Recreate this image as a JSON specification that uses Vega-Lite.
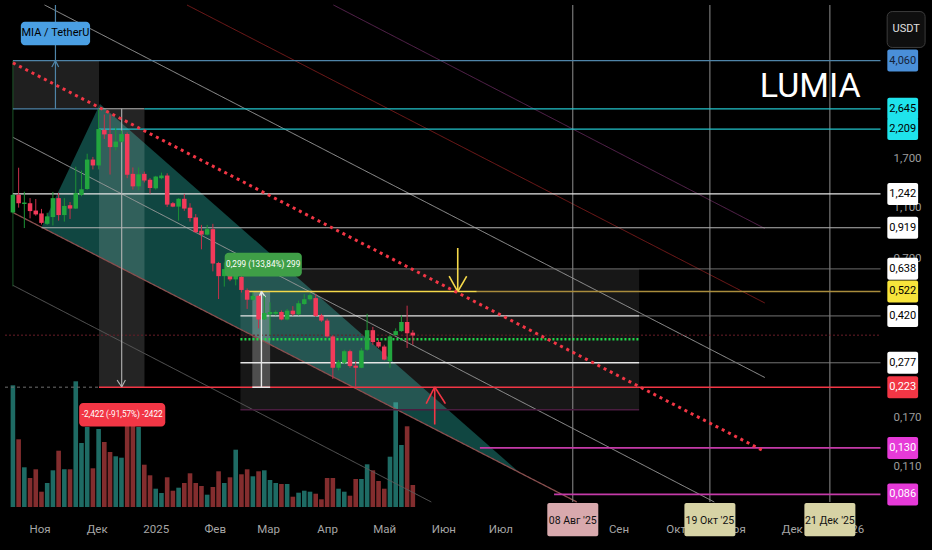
{
  "$schema": "https://vega.github.io/schema/vega-lite/v6.json",
  "width": 932,
  "height": 507,
  "autosize": {"type": "none"},
  "padding": {"left": 0, "top": 0, "right": 0, "bottom": 43},
  "background": "#000000",
  "config": {
    "view": {"stroke": null},
    "text": {"font": "Roboto, Liberation Sans, sans-serif"}
  },
  "datasets": {
    "candles": [
      {"t": "2024-10-18", "o": 1.053, "h": 1.244, "l": 1.045, "c": 1.231, "v": 121.7},
      {"t": "2024-10-21", "o": 1.231, "h": 1.567, "l": 1.099, "c": 1.143, "v": 67.7},
      {"t": "2024-10-24", "o": 1.135, "h": 1.266, "l": 0.917, "c": 1.150, "v": 39.7},
      {"t": "2024-10-27", "o": 1.143, "h": 1.196, "l": 0.999, "c": 1.066, "v": 29},
      {"t": "2024-10-30", "o": 1.071, "h": 1.186, "l": 1.023, "c": 1.035, "v": 37.7},
      {"t": "2024-11-02", "o": 1.044, "h": 1.087, "l": 0.946, "c": 0.960, "v": 15.3},
      {"t": "2024-11-05", "o": 0.952, "h": 1.050, "l": 0.943, "c": 1.017, "v": 24},
      {"t": "2024-11-08", "o": 1.011, "h": 1.264, "l": 0.938, "c": 1.196, "v": 36.7},
      {"t": "2024-11-11", "o": 1.196, "h": 1.253, "l": 0.979, "c": 1.029, "v": 56.3},
      {"t": "2024-11-14", "o": 1.029, "h": 1.196, "l": 0.971, "c": 1.116, "v": 37.7},
      {"t": "2024-11-17", "o": 1.123, "h": 1.155, "l": 0.994, "c": 1.090, "v": 37.7},
      {"t": "2024-11-20", "o": 1.090, "h": 1.581, "l": 1.087, "c": 1.250, "v": 125.7},
      {"t": "2024-11-23", "o": 1.231, "h": 1.527, "l": 1.217, "c": 1.294, "v": 64},
      {"t": "2024-11-26", "o": 1.297, "h": 1.775, "l": 1.288, "c": 1.685, "v": 80},
      {"t": "2024-11-29", "o": 1.685, "h": 1.725, "l": 1.544, "c": 1.599, "v": 38.7},
      {"t": "2024-12-02", "o": 1.599, "h": 2.645, "l": 1.544, "c": 2.209, "v": 78},
      {"t": "2024-12-05", "o": 2.195, "h": 2.515, "l": 2.023, "c": 2.107, "v": 65},
      {"t": "2024-12-08", "o": 2.113, "h": 2.515, "l": 1.475, "c": 1.882, "v": 55},
      {"t": "2024-12-11", "o": 1.882, "h": 2.240, "l": 1.828, "c": 1.977, "v": 50.7},
      {"t": "2024-12-14", "o": 1.977, "h": 2.182, "l": 1.965, "c": 2.113, "v": 49.3},
      {"t": "2024-12-17", "o": 2.113, "h": 2.144, "l": 1.428, "c": 1.471, "v": 85},
      {"t": "2024-12-20", "o": 1.484, "h": 1.571, "l": 1.291, "c": 1.328, "v": 85},
      {"t": "2024-12-23", "o": 1.328, "h": 1.571, "l": 1.283, "c": 1.478, "v": 80},
      {"t": "2024-12-26", "o": 1.484, "h": 1.514, "l": 1.375, "c": 1.399, "v": 42.3},
      {"t": "2024-12-29", "o": 1.408, "h": 1.428, "l": 1.246, "c": 1.309, "v": 31.7},
      {"t": "2025-01-01", "o": 1.305, "h": 1.458, "l": 1.291, "c": 1.449, "v": 18.3},
      {"t": "2025-01-04", "o": 1.428, "h": 1.500, "l": 1.415, "c": 1.462, "v": 14},
      {"t": "2025-01-07", "o": 1.462, "h": 1.491, "l": 1.106, "c": 1.129, "v": 29.7},
      {"t": "2025-01-10", "o": 1.143, "h": 1.155, "l": 1.103, "c": 1.109, "v": 16.3},
      {"t": "2025-01-13", "o": 1.109, "h": 1.196, "l": 0.979, "c": 1.189, "v": 19.3},
      {"t": "2025-01-16", "o": 1.189, "h": 1.242, "l": 1.068, "c": 1.090, "v": 24},
      {"t": "2025-01-19", "o": 1.099, "h": 1.143, "l": 0.971, "c": 1.002, "v": 33.7},
      {"t": "2025-01-22", "o": 1.008, "h": 1.038, "l": 0.880, "c": 0.884, "v": 24},
      {"t": "2025-01-25", "o": 0.895, "h": 0.943, "l": 0.759, "c": 0.865, "v": 21},
      {"t": "2025-01-28", "o": 0.865, "h": 0.943, "l": 0.859, "c": 0.908, "v": 12.3},
      {"t": "2025-01-31", "o": 0.908, "h": 0.952, "l": 0.624, "c": 0.669, "v": 20},
      {"t": "2025-02-03", "o": 0.672, "h": 0.679, "l": 0.488, "c": 0.598, "v": 35.7},
      {"t": "2025-02-06", "o": 0.598, "h": 0.675, "l": 0.545, "c": 0.637, "v": 24},
      {"t": "2025-02-09", "o": 0.652, "h": 0.662, "l": 0.572, "c": 0.581, "v": 29.7},
      {"t": "2025-02-12", "o": 0.581, "h": 0.652, "l": 0.551, "c": 0.639, "v": 57.3},
      {"t": "2025-02-15", "o": 0.594, "h": 0.607, "l": 0.517, "c": 0.529, "v": 32.7},
      {"t": "2025-02-18", "o": 0.528, "h": 0.536, "l": 0.447, "c": 0.485, "v": 37.7},
      {"t": "2025-02-21", "o": 0.485, "h": 0.517, "l": 0.481, "c": 0.502, "v": 30.7},
      {"t": "2025-02-24", "o": 0.502, "h": 0.505, "l": 0.376, "c": 0.407, "v": 35.7},
      {"t": "2025-02-27", "o": 0.407, "h": 0.502, "l": 0.406, "c": 0.431, "v": 36.7},
      {"t": "2025-03-02", "o": 0.426, "h": 0.474, "l": 0.353, "c": 0.435, "v": 27},
      {"t": "2025-03-05", "o": 0.428, "h": 0.441, "l": 0.422, "c": 0.435, "v": 24},
      {"t": "2025-03-08", "o": 0.435, "h": 0.441, "l": 0.404, "c": 0.407, "v": 23},
      {"t": "2025-03-11", "o": 0.407, "h": 0.447, "l": 0.404, "c": 0.440, "v": 23},
      {"t": "2025-03-14", "o": 0.440, "h": 0.458, "l": 0.420, "c": 0.426, "v": 10.3},
      {"t": "2025-03-17", "o": 0.426, "h": 0.481, "l": 0.422, "c": 0.470, "v": 14.3},
      {"t": "2025-03-20", "o": 0.467, "h": 0.510, "l": 0.463, "c": 0.487, "v": 16.3},
      {"t": "2025-03-23", "o": 0.487, "h": 0.513, "l": 0.481, "c": 0.505, "v": 15.3},
      {"t": "2025-03-26", "o": 0.492, "h": 0.510, "l": 0.416, "c": 0.420, "v": 13.3},
      {"t": "2025-03-29", "o": 0.422, "h": 0.428, "l": 0.398, "c": 0.403, "v": 7.7},
      {"t": "2025-04-01", "o": 0.403, "h": 0.410, "l": 0.347, "c": 0.350, "v": 29},
      {"t": "2025-04-04", "o": 0.350, "h": 0.354, "l": 0.240, "c": 0.265, "v": 29},
      {"t": "2025-04-07", "o": 0.265, "h": 0.284, "l": 0.259, "c": 0.279, "v": 18.3},
      {"t": "2025-04-10", "o": 0.277, "h": 0.311, "l": 0.273, "c": 0.307, "v": 15.3},
      {"t": "2025-04-13", "o": 0.307, "h": 0.311, "l": 0.265, "c": 0.269, "v": 11.3},
      {"t": "2025-04-16", "o": 0.270, "h": 0.281, "l": 0.223, "c": 0.265, "v": 28},
      {"t": "2025-04-19", "o": 0.265, "h": 0.316, "l": 0.264, "c": 0.309, "v": 28},
      {"t": "2025-04-22", "o": 0.311, "h": 0.428, "l": 0.308, "c": 0.370, "v": 42.7},
      {"t": "2025-04-25", "o": 0.370, "h": 0.381, "l": 0.325, "c": 0.333, "v": 36.7},
      {"t": "2025-04-28", "o": 0.333, "h": 0.339, "l": 0.316, "c": 0.320, "v": 26},
      {"t": "2025-05-01", "o": 0.320, "h": 0.325, "l": 0.283, "c": 0.285, "v": 18.3},
      {"t": "2025-05-04", "o": 0.281, "h": 0.354, "l": 0.265, "c": 0.350, "v": 50.3},
      {"t": "2025-05-07", "o": 0.354, "h": 0.376, "l": 0.353, "c": 0.367, "v": 104.7},
      {"t": "2025-05-10", "o": 0.367, "h": 0.422, "l": 0.365, "c": 0.398, "v": 62},
      {"t": "2025-05-13", "o": 0.398, "h": 0.460, "l": 0.316, "c": 0.360, "v": 80.7},
      {"t": "2025-05-16", "o": 0.362, "h": 0.370, "l": 0.325, "c": 0.353, "v": 22}
    ],
    "wedge": [
      {"t": "2024-11-02T01:30Z", "p": 0.9253, "p2": 0.9253},
      {"t": "2024-12-02T17:00Z", "p": 2.7604, "p2": 0.7076},
      {"t": "2025-07-10T23:00Z", "p": 0.1044, "p2": 0.1044}
    ],
    "zones": [
      {"t": "2025-02-14T11:30Z", "t2": "2025-09-11T20:00Z", "p": 0.638, "p2": 0.1824, "k": "box"},
      {"t": "2024-10-18", "t2": "2024-12-02T05:00Z", "p": 4.06, "p2": 2.645, "k": "up"},
      {"t": "2024-12-02T05:00Z", "t2": "2024-12-26T02:00Z", "p": 2.645, "p2": 0.223, "k": "down"},
      {"t": "2025-02-20T17:00Z", "t2": "2025-03-02T01:30Z", "p": 0.522, "p2": 0.223, "k": "rebound"}
    ],
    "segments": [
      {"t": "2024-11-03T15:00Z", "p": 6.652, "t2": "2025-11-16T19:30Z", "p2": 0.2431, "k": "diaggrey"},
      {"t": "2025-01-17T10:00Z", "p": 6.652, "t2": "2025-11-16T19:30Z", "p2": 0.4712, "k": "diagred"},
      {"t": "2025-04-04T07:30Z", "p": 6.652, "t2": "2025-11-16T19:30Z", "p2": 0.9133, "k": "diagpurple"},
      {"t": "2024-10-18", "p": 2.0528, "t2": "2025-10-21T07:00Z", "p2": 0.0804, "k": "diaggrey"},
      {"t": "2024-10-18", "p": 0.5511, "t2": "2025-05-25T17:00Z", "p2": 0.0804, "k": "diagdark"},
      {"t": "2024-10-18", "p": 1.0526, "t2": "2025-08-10T03:00Z", "p2": 0.0804, "k": "wedge"},
      {"t": "2024-10-18", "p": 4.05, "t2": "2024-10-18", "p2": 0.5463, "k": "green"},
      {"t": "2025-08-08", "p": 6.652, "t2": "2025-08-08", "p2": 0.0804, "k": "vgrey"},
      {"t": "2025-10-19", "p": 6.652, "t2": "2025-10-19", "p2": 0.0804, "k": "vgrey"},
      {"t": "2025-12-21", "p": 6.652, "t2": "2025-12-21", "p2": 0.0804, "k": "vgrey"},
      {"t": "2024-10-18", "p": 4.06, "t2": "2026-01-16T14:00Z", "p2": 4.06, "k": "blue"},
      {"t": "2024-10-18", "p": 2.645, "t2": "2024-12-02T05:00Z", "p2": 2.645, "k": "blue"},
      {"t": "2024-12-02T05:00Z", "p": 2.645, "t2": "2024-12-26T02:00Z", "p2": 2.645, "k": "grey"},
      {"t": "2024-12-26T02:00Z", "p": 2.645, "t2": "2026-01-16T14:00Z", "p2": 2.645, "k": "cyan"},
      {"t": "2024-12-02T05:00Z", "p": 2.209, "t2": "2026-01-16T14:00Z", "p2": 2.209, "k": "cyan"},
      {"t": "2024-10-18", "p": 1.242, "t2": "2026-01-16T14:00Z", "p2": 1.242, "k": "white"},
      {"t": "2024-11-02", "p": 0.919, "t2": "2026-01-16T14:00Z", "p2": 0.919, "k": "grey"},
      {"t": "2025-02-14T11:30Z", "p": 0.638, "t2": "2026-01-16T14:00Z", "p2": 0.638, "k": "dim"},
      {"t": "2025-06-18T14:00Z", "p": 0.522, "t2": "2026-01-16T14:00Z", "p2": 0.522, "k": "gold"},
      {"t": "2025-02-17T02:00Z", "p": 0.522, "t2": "2025-06-18T14:00Z", "p2": 0.522, "k": "yellow"},
      {"t": "2025-02-14T11:30Z", "p": 0.42, "t2": "2025-09-11T20:00Z", "p2": 0.42, "k": "white"},
      {"t": "2025-09-11T20:00Z", "p": 0.42, "t2": "2026-01-16T14:00Z", "p2": 0.42, "k": "dim"},
      {"t": "2024-10-13T20:15Z", "p": 0.354, "t2": "2026-01-16T14:00Z", "p2": 0.354, "k": "reddash"},
      {"t": "2025-02-14T11:30Z", "p": 0.3414, "t2": "2025-09-11T20:00Z", "p2": 0.3414, "k": "greendot"},
      {"t": "2025-02-14T11:30Z", "p": 0.277, "t2": "2025-09-11T20:00Z", "p2": 0.277, "k": "white"},
      {"t": "2025-09-11T20:00Z", "p": 0.277, "t2": "2026-01-16T14:00Z", "p2": 0.277, "k": "dim"},
      {"t": "2024-10-13T20:15Z", "p": 0.223, "t2": "2024-12-02T05:00Z", "p2": 0.223, "k": "greydash"},
      {"t": "2024-12-02T05:00Z", "p": 0.223, "t2": "2026-01-16T14:00Z", "p2": 0.223, "k": "red"},
      {"t": "2025-02-20T17:00Z", "p": 0.223, "t2": "2025-03-02T01:30Z", "p2": 0.223, "k": "white"},
      {"t": "2025-02-14T11:30Z", "p": 0.1824, "t2": "2025-09-11T20:00Z", "p2": 0.1824, "k": "boxline"},
      {"t": "2025-06-20T05:00Z", "p": 0.13, "t2": "2026-01-16T14:00Z", "p2": 0.13, "k": "magenta"},
      {"t": "2025-07-29T04:00Z", "p": 0.086, "t2": "2026-01-16T14:00Z", "p2": 0.086, "k": "magenta"},
      {"t": "2024-11-09T08:00Z", "p": 6.652, "t2": "2024-11-09T08:00Z", "p2": 2.645, "k": "blue"},
      {"t": "2024-11-07T10:00Z", "p": 3.833, "t2": "2024-11-09T08:00Z", "p2": 4.06, "k": "blue"},
      {"t": "2024-11-11T01:00Z", "p": 3.833, "t2": "2024-11-09T08:00Z", "p2": 4.06, "k": "blue"},
      {"t": "2024-12-14T03:00Z", "p": 2.645, "t2": "2024-12-14T03:00Z", "p2": 0.2235, "k": "grey"},
      {"t": "2024-12-11T17:00Z", "p": 0.2375, "t2": "2024-12-14T03:00Z", "p2": 0.2235, "k": "grey"},
      {"t": "2024-12-16T01:30Z", "p": 0.2375, "t2": "2024-12-14T03:00Z", "p2": 0.2235, "k": "grey"},
      {"t": "2025-02-25T12:00Z", "p": 0.522, "t2": "2025-02-25T12:00Z", "p2": 0.223, "k": "white"},
      {"t": "2025-02-24T05:00Z", "p": 0.4965, "t2": "2025-02-25T12:00Z", "p2": 0.522, "k": "white"},
      {"t": "2025-02-27T14:00Z", "p": 0.4965, "t2": "2025-02-25T12:00Z", "p2": 0.522, "k": "white"},
      {"t": "2025-06-08T14:00Z", "p": 0.7673, "t2": "2025-06-08T14:00Z", "p2": 0.521, "k": "yellow"},
      {"t": "2025-06-04T02:00Z", "p": 0.5976, "t2": "2025-06-08T14:00Z", "p2": 0.521, "k": "yellow"},
      {"t": "2025-06-13T07:00Z", "p": 0.5976, "t2": "2025-06-08T14:00Z", "p2": 0.521, "k": "yellow"},
      {"t": "2025-05-27T12:00Z", "p": 0.1601, "t2": "2025-05-27T12:00Z", "p2": 0.2235, "k": "red"},
      {"t": "2025-05-23T00:00Z", "p": 0.1926, "t2": "2025-05-27T12:00Z", "p2": 0.2235, "k": "red"},
      {"t": "2025-06-02T03:00Z", "p": 0.1926, "t2": "2025-05-27T12:00Z", "p2": 0.2235, "k": "red"},
      {"t": "2024-10-18", "p": 3.979, "t2": "2025-11-16T07:00Z", "p2": 0.1265, "k": "reddot"}
    ],
    "tags": [
      {"t": "2024-10-22T04:00Z", "t2": "2024-11-27T12:30Z", "p": 5.737, "p2": 4.654, "tx": "2024-11-09T08:00Z", "tp": 5.167, "label": "MIA / TetherU", "k": "symbol"},
      {"t": "2024-11-21T19:00Z", "t2": "2025-01-06", "p": 0.1938, "p2": 0.1572, "tx": "2024-12-14T09:00Z", "tp": 0.1746, "label": "-2,422 (-91,57%) -2422", "k": "loss"},
      {"t": "2025-02-06T05:00Z", "t2": "2025-03-18T17:00Z", "p": 0.7366, "p2": 0.596, "tx": "2025-02-26T10:00Z", "tp": 0.6617, "label": "0,299 (133,84%) 299", "k": "gain"}
    ],
    "plabels": [
      {"p": 4.06, "label": "4,060", "k": "blue"},
      {"p": 2.645, "label": "2,645", "k": "cyan"},
      {"p": 2.209, "label": "2,209", "k": "cyan"},
      {"p": 1.242, "label": "1,242", "k": "white"},
      {"p": 0.919, "label": "0,919", "k": "white"},
      {"p": 0.638, "label": "0,638", "k": "white"},
      {"p": 0.522, "label": "0,522", "k": "yellow"},
      {"p": 0.42, "label": "0,420", "k": "white"},
      {"p": 0.277, "label": "0,277", "k": "white"},
      {"p": 0.223, "label": "0,223", "k": "red"},
      {"p": 0.13, "label": "0,130", "k": "magenta"},
      {"p": 0.086, "label": "0,086", "k": "magenta"}
    ],
    "dlabels": [
      {"t": "2025-08-08", "label": "08 Авг '25", "k": "pink"},
      {"t": "2025-10-19", "label": "19 Окт '25", "k": "sand"},
      {"t": "2025-12-21", "label": "21 Дек '25", "k": "sand"}
    ]
  },
  "layer": [
    {
      "data": {"name": "candles"},
      "mark": {"type": "bar", "size": 4.6},
      "encoding": {
        "x": {
          "field": "t", "type": "temporal", "title": null,
          "scale": {
            "type": "utc", "nice": false,
            "domain": [
              {"year": 2024, "month": 10, "date": 13, "hours": 20, "minutes": 15, "utc": true},
              {"year": 2026, "month": 2, "date": 10, "utc": true}
            ]
          },
          "axis": {
            "values": [
              {"year": 2024, "month": 11, "date": 1, "utc": true},
              {"year": 2024, "month": 12, "date": 1, "utc": true},
              {"year": 2025, "month": 1, "date": 1, "utc": true},
              {"year": 2025, "month": 2, "date": 1, "utc": true},
              {"year": 2025, "month": 3, "date": 1, "utc": true},
              {"year": 2025, "month": 4, "date": 1, "utc": true},
              {"year": 2025, "month": 5, "date": 1, "utc": true},
              {"year": 2025, "month": 6, "date": 1, "utc": true},
              {"year": 2025, "month": 7, "date": 1, "utc": true},
              {"year": 2025, "month": 9, "date": 1, "utc": true},
              {"year": 2025, "month": 10, "date": 1, "utc": true},
              {"year": 2025, "month": 11, "date": 1, "utc": true},
              {"year": 2025, "month": 12, "date": 1, "utc": true},
              {"year": 2026, "month": 1, "date": 1, "utc": true}
            ],
            "labelExpr": "utcmonth(datum.value) == 0 ? utcFormat(datum.value, '%Y') : ['Янв','Фев','Мар','Апр','Май','Июн','Июл','Авг','Сен','Окт','Ноя','Дек'][utcmonth(datum.value)]",
            "title": null, "grid": false, "domain": false, "ticks": false, "tickSize": 0,
            "labelPadding": 22, "labelBaseline": "middle", "labelOverlap": false,
            "labelFlush": false, "labelBound": false,
            "labelColor": "#a6a6a6", "labelFontSize": 11.5,
            "labelFont": "Roboto, Liberation Sans, sans-serif"
          }
        },
        "y": {"field": "v", "type": "quantitative", "axis": null, "scale": {"domain": [0, 507], "nice": false}},
        "color": {"condition": {"test": "datum.c >= datum.o", "value": "#1e6b64"}, "value": "#832d2e"}
      }
    },
    {
      "resolve": {"scale": {"color": "independent", "opacity": "independent", "strokeWidth": "independent", "strokeDash": "independent"}},
      "layer": [
        {
          "data": {"name": "wedge"},
          "mark": {"type": "area", "color": "#26a69a", "opacity": 0.42},
          "encoding": {
            "x": {"field": "t", "type": "temporal", "title": null},
            "y": {
              "field": "p", "type": "quantitative", "title": null,
              "scale": {"type": "log", "domain": [0.0804, 6.652], "nice": false},
              "axis": {
                "orient": "right", "offset": -47, "title": null,
                "values": [1.7, 1.1, 0.7, 0.17, 0.11],
                "labelExpr": "replace(format(datum.value, '.3f'), '.', ',')",
                "grid": false, "domain": false, "ticks": false, "tickSize": 0,
                "labelAlign": "center", "labelPadding": 22, "labelOverlap": false,
                "labelBound": false, "labelFlush": false,
                "labelColor": "#9c9c9c", "labelFontSize": 11.5,
                "labelFont": "Roboto, Liberation Sans, sans-serif"
              }
            },
            "y2": {"field": "p2"}
          }
        },
        {
          "data": {"name": "zones"},
          "mark": {"type": "rect", "color": "#ffffff"},
          "encoding": {
            "x": {"field": "t", "type": "temporal", "title": null},
            "x2": {"field": "t2"},
            "y": {"field": "p", "type": "quantitative", "title": null},
            "y2": {"field": "p2"},
            "opacity": {
              "field": "k", "type": "nominal", "legend": null,
              "scale": {"type": "ordinal", "domain": ["box", "up", "down", "rebound"], "range": [0.09, 0.12, 0.14, 0.24]}
            }
          }
        },
        {
          "data": {"name": "segments"},
          "mark": {"type": "rule", "strokeCap": "butt"},
          "encoding": {
            "x": {"field": "t", "type": "temporal", "title": null},
            "x2": {"field": "t2"},
            "y": {"field": "p", "type": "quantitative", "title": null},
            "y2": {"field": "p2"},
            "color": {
              "field": "k", "type": "nominal", "legend": null,
              "scale": {
                "domain": ["blue", "cyan", "white", "grey", "dim", "yellow", "gold", "red", "greydash", "boxline", "magenta", "greendot", "reddash", "reddot", "diaggrey", "diagdark", "diagred", "diagpurple", "wedge", "green", "vgrey"],
                "range": ["#4f84a8", "#22c4cc", "#e6e6e6", "#b4b4b4", "#7d7d7d", "#f5d94a", "#a98c3c", "#f23645", "#6e6e6e", "#4a1d40", "#c43aa8", "#22d84a", "#6a1d28", "#f23645", "#9c9c9c", "#5c5c5c", "#7a1c1c", "#5c2653", "#8a4f4f", "#1f5c2b", "#8f8f8f"]
              }
            },
            "strokeWidth": {
              "field": "k", "type": "nominal", "legend": null,
              "scale": {
                "type": "ordinal",
                "domain": ["blue", "cyan", "white", "grey", "dim", "yellow", "gold", "red", "greydash", "boxline", "magenta", "greendot", "reddash", "reddot", "diaggrey", "diagdark", "diagred", "diagpurple", "wedge", "green", "vgrey"],
                "range": [1.2, 1.3, 1.4, 1.1, 1, 1.6, 1.6, 1.6, 1, 1.6, 1.6, 2.5, 1, 3, 1, 1, 1, 1, 1.3, 1, 1]
              }
            },
            "strokeDash": {
              "field": "k", "type": "nominal", "legend": null,
              "scale": {
                "domain": ["blue", "cyan", "white", "grey", "dim", "yellow", "gold", "red", "greydash", "boxline", "magenta", "greendot", "reddash", "reddot", "diaggrey", "diagdark", "diagred", "diagpurple", "wedge", "green", "vgrey"],
                "range": [[1, 0], [1, 0], [1, 0], [1, 0], [1, 0], [1, 0], [1, 0], [1, 0], [3, 3], [1, 0], [1, 0], [2, 2], [2, 2], [3, 4], [1, 0], [1, 0], [1, 0], [1, 0], [1, 0], [1, 0], [1, 0]]
              }
            }
          }
        },
        {
          "data": {"name": "candles"},
          "mark": {"type": "rule", "strokeWidth": 1},
          "encoding": {
            "x": {"field": "t", "type": "temporal", "title": null},
            "y": {"field": "l", "type": "quantitative", "title": null},
            "y2": {"field": "h"},
            "color": {"condition": {"test": "datum.c >= datum.o", "value": "#1c9234"}, "value": "#c8304a"}
          }
        },
        {
          "data": {"name": "candles"},
          "mark": {"type": "bar", "size": 4.5, "orient": "vertical"},
          "encoding": {
            "x": {"field": "t", "type": "temporal", "title": null},
            "y": {"field": "o", "type": "quantitative", "title": null},
            "y2": {"field": "c"},
            "color": {"condition": {"test": "datum.c >= datum.o", "value": "#22a63e"}, "value": "#f23a5a"}
          }
        },
        {
          "data": {"name": "tags"},
          "mark": {"type": "rect", "cornerRadius": 4},
          "encoding": {
            "x": {"field": "t", "type": "temporal", "title": null},
            "x2": {"field": "t2"},
            "y": {"field": "p", "type": "quantitative", "title": null},
            "y2": {"field": "p2"},
            "color": {
              "field": "k", "type": "nominal", "legend": null,
              "scale": {"domain": ["symbol", "loss", "gain"], "range": ["#4a9fe3", "#f23645", "#3f9f47"]}
            }
          }
        },
        {
          "data": {"name": "tags"},
          "mark": {"type": "text", "align": "center", "baseline": "middle"},
          "encoding": {
            "x": {"field": "tx", "type": "temporal", "title": null},
            "y": {"field": "tp", "type": "quantitative", "title": null},
            "text": {"field": "label"},
            "color": {
              "field": "k", "type": "nominal", "legend": null,
              "scale": {"domain": ["symbol", "loss", "gain"], "range": ["#000000", "#ffffff", "#ffffff"]}
            },
            "size": {"condition": {"test": "datum.k == 'symbol'", "value": 11}, "value": 8.2}
          }
        },
        {
          "data": {"name": "plabels"},
          "mark": {"type": "bar", "orient": "horizontal", "size": 22, "cornerRadius": 2},
          "encoding": {
            "x": {"datum": {"year": 2026, "month": 1, "date": 20, "hours": 4, "utc": true}, "type": "temporal"},
            "x2": {"datum": {"year": 2026, "month": 2, "date": 5, "hours": 8, "utc": true}},
            "y": {"field": "p", "type": "quantitative", "title": null},
            "color": {
              "field": "k", "type": "nominal", "legend": null,
              "scale": {"domain": ["blue", "cyan", "white", "yellow", "red", "magenta"], "range": ["#4a8fd8", "#1fe3ec", "#ffffff", "#f7e43b", "#f23645", "#e63ad8"]}
            }
          }
        },
        {
          "data": {"name": "plabels"},
          "mark": {"type": "text", "fontSize": 11, "align": "center", "baseline": "middle"},
          "encoding": {
            "x": {"datum": {"year": 2026, "month": 1, "date": 28, "hours": 7, "utc": true}, "type": "temporal"},
            "y": {"field": "p", "type": "quantitative", "title": null},
            "text": {"field": "label"},
            "color": {
              "field": "k", "type": "nominal", "legend": null,
              "scale": {"domain": ["blue", "cyan", "white", "yellow", "red", "magenta"], "range": ["#14233a", "#000000", "#000000", "#000000", "#ffffff", "#ffffff"]}
            }
          }
        },
        {
          "data": {"name": "dlabels"},
          "mark": {"type": "bar", "orient": "vertical", "size": 51, "cornerRadius": 2},
          "encoding": {
            "x": {"field": "t", "type": "temporal", "title": null},
            "y": {"datum": 0.0797, "type": "quantitative"},
            "y2": {"datum": 0.0593},
            "color": {
              "field": "k", "type": "nominal", "legend": null,
              "scale": {"domain": ["pink", "sand"], "range": ["#d8a9ad", "#d7d3a5"]}
            }
          }
        },
        {
          "data": {"name": "dlabels"},
          "mark": {"type": "text", "fontSize": 10.5, "align": "center", "baseline": "middle", "color": "#111111"},
          "encoding": {
            "x": {"field": "t", "type": "temporal", "title": null},
            "y": {"datum": 0.0681, "type": "quantitative"},
            "text": {"field": "label"}
          }
        },
        {
          "data": {"values": [{"name": "LUMIA"}]},
          "mark": {"type": "text", "fontSize": 34, "align": "center", "baseline": "middle", "color": "#ffffff"},
          "encoding": {
            "x": {"datum": {"year": 2025, "month": 12, "date": 10, "hours": 17, "utc": true}, "type": "temporal"},
            "y": {"datum": 3.215, "type": "quantitative"},
            "text": {"field": "name"}
          }
        },
        {
          "data": {"values": [{"name": "USDT"}]},
          "mark": {"type": "rect", "fill": "#0f0f0f", "stroke": "#3c3c3c", "strokeWidth": 1, "cornerRadius": 5},
          "encoding": {
            "x": {"datum": {"year": 2026, "month": 1, "date": 20, "hours": 2, "utc": true}, "type": "temporal"},
            "x2": {"datum": {"year": 2026, "month": 2, "date": 9, "utc": true}},
            "y": {"datum": 6.275, "type": "quantitative"},
            "y2": {"datum": 4.562}
          }
        },
        {
          "data": {"values": [{"name": "USDT"}]},
          "mark": {"type": "text", "fontSize": 11, "align": "center", "baseline": "middle", "color": "#e0e0e0"},
          "encoding": {
            "x": {"datum": {"year": 2026, "month": 1, "date": 30, "hours": 2, "utc": true}, "type": "temporal"},
            "y": {"datum": 5.351, "type": "quantitative"},
            "text": {"field": "name"}
          }
        }
      ]
    }
  ],
  "resolve": {"scale": {"y": "independent"}}
}
